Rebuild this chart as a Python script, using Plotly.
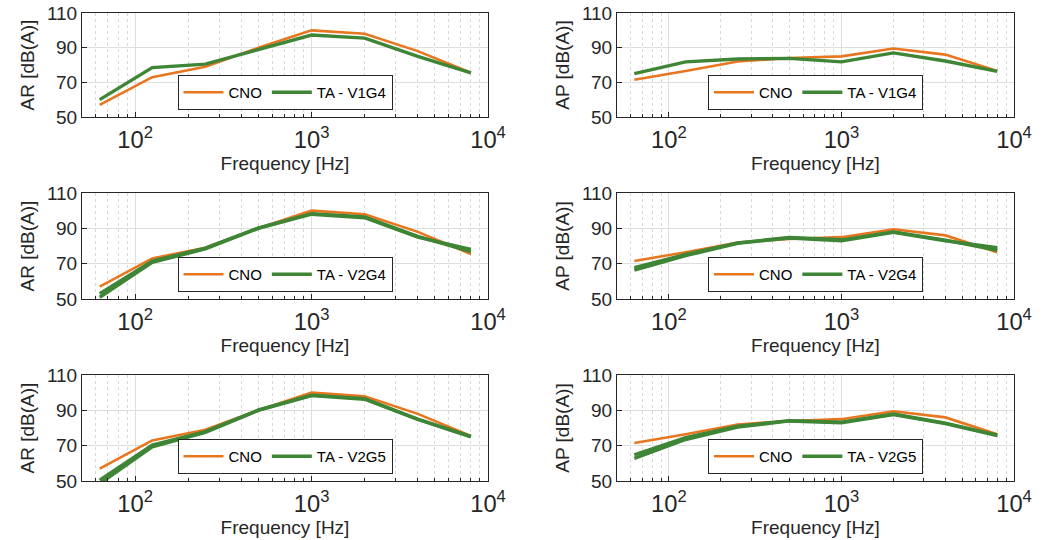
import plotly.graph_objects as go
import math

freq = [63, 125, 250, 500, 1000, 2000, 4000, 8000]

AR_CNO = [57, 73, 79, 90, 100, 98, 88, 75.5]
AP_CNO = [71.5, 76.5, 82, 84, 85, 89.5, 86, 76.5]

AR_V1G4 = [60, 78.5, 80.5, 89, 97.3, 95.5, 85, 75.5]
AP_V1G4 = [75, 81.8, 83.5, 83.8, 81.8, 87, 82.3, 76.3]

AR_V2G4_a = [51, 70.8, 78.3, 90, 98, 96, 85, 78]
AR_V2G4_b = [53, 71.5, 78.8, 90.2, 98.3, 96.5, 85.5, 76.8]
AP_V2G4_a = [66.3, 74.5, 81.5, 84.5, 83, 87.8, 83, 79]
AP_V2G4_b = [67.8, 75.2, 81.8, 84.8, 83.5, 88, 83.3, 77.5]

AR_V2G5_a = [48.5, 69.3, 77.5, 90, 98.3, 96.3, 84.8, 75]
AR_V2G5_b = [50.5, 70.3, 78, 90.2, 98.6, 96.6, 85, 75.3]
AP_V2G5_a = [62.8, 73.5, 80.5, 84, 83, 87.6, 82.5, 75.7]
AP_V2G5_b = [64.8, 74.5, 81, 84.2, 83.3, 87.9, 82.8, 76]

y_ticks = [50, 70, 90, 110]

panels = [
    ("AR [dB(A)]", AR_CNO, [AR_V1G4], "TA - V1G4"),
    ("AP [dB(A)]", AP_CNO, [AP_V1G4], "TA - V1G4"),
    ("AR [dB(A)]", AR_CNO, [AR_V2G4_a, AR_V2G4_b], "TA - V2G4"),
    ("AP [dB(A)]", AP_CNO, [AP_V2G4_a, AP_V2G4_b], "TA - V2G4"),
    ("AR [dB(A)]", AR_CNO, [AR_V2G5_a, AR_V2G5_b], "TA - V2G5"),
    ("AP [dB(A)]", AP_CNO, [AP_V2G5_a, AP_V2G5_b], "TA - V2G5"),
]

W, H = 1051, 540
col_px = [(82, 488), (617, 1014)]
row_px = [(13, 117), (193, 299), (375, 481)]

ORANGE = "#E8761E"
GREEN = "#3F8536"
TXT = "#262626"
FONT = "Liberation Sans, Arial, sans-serif"

fig = go.Figure()
layout = dict(
    width=W, height=H, margin=dict(l=0, r=0, t=0, b=0, autoexpand=False),
    paper_bgcolor="white", plot_bgcolor="white",
    font=dict(family=FONT, color=TXT, size=19),
)

for i, (ylab, cno, greens, glab) in enumerate(panels):
    r, c = divmod(i, 2)
    x0, x1 = col_px[c]
    ytop, ybot = row_px[r]
    n = "" if i == 0 else str(i + 1)
    xa, ya = "x" + n, "y" + n
    lg = "legend" + n
    fig.add_trace(go.Scatter(x=freq, y=cno, mode="lines", name="CNO",
                             line=dict(color=ORANGE, width=2.6),
                             xaxis=xa, yaxis=ya, legend=lg))
    for k, g in enumerate(greens):
        fig.add_trace(go.Scatter(x=freq, y=g, mode="lines", name=glab,
                                 line=dict(color=GREEN, width=3.4),
                                 showlegend=(k == 0),
                                 xaxis=xa, yaxis=ya, legend=lg))
    layout["xaxis" + n] = dict(
        type="log", range=[math.log10(50), 4], domain=[x0 / W, x1 / W],
        anchor=ya, dtick=1, exponentformat="power", showexponent="all",
        showgrid=True, gridcolor="#dedede", gridwidth=1,
        minor=dict(dtick="D1", showgrid=True, gridcolor="#d8d8d8",
                   griddash="dot", ticks="inside", ticklen=3, tickcolor=TXT),
        ticks="inside", ticklen=5, tickcolor=TXT,
        showline=True, linecolor=TXT, linewidth=1, mirror=True,
        tickfont=dict(size=19, color=TXT), ticklabelstandoff=2,
        title=dict(text="Frequency [Hz]", font=dict(size=19, color=TXT), standoff=2),
        zeroline=False, automargin=False,
    )
    layout["yaxis" + n] = dict(
        range=[50, 110], domain=[1 - ybot / H, 1 - ytop / H], anchor=xa,
        tickvals=y_ticks, showgrid=True, gridcolor="#dedede", gridwidth=1,
        ticks="inside", ticklen=5, tickcolor=TXT,
        showline=True, linecolor=TXT, linewidth=1, mirror=True,
        tickfont=dict(size=19, color=TXT),
        title=dict(text=ylab, font=dict(size=19, color=TXT), standoff=7),
        zeroline=False, automargin=False,
    )
    layout[lg] = dict(
        orientation="h", x=(x0 + x1) / 2 / W, xanchor="center",
        y=1 - (ybot - 7) / H, yanchor="bottom", yref="paper",
        bgcolor="white", bordercolor=TXT, borderwidth=1,
        font=dict(size=15, color="#000000", family=FONT),
        itemwidth=40, tracegroupgap=0,
    )

fig.update_layout(**layout)
fig.write_html("out.html",
               config={"displayModeBar": False},
               post_script="document.body.style.margin='0';document.body.style.overflow='hidden';")
